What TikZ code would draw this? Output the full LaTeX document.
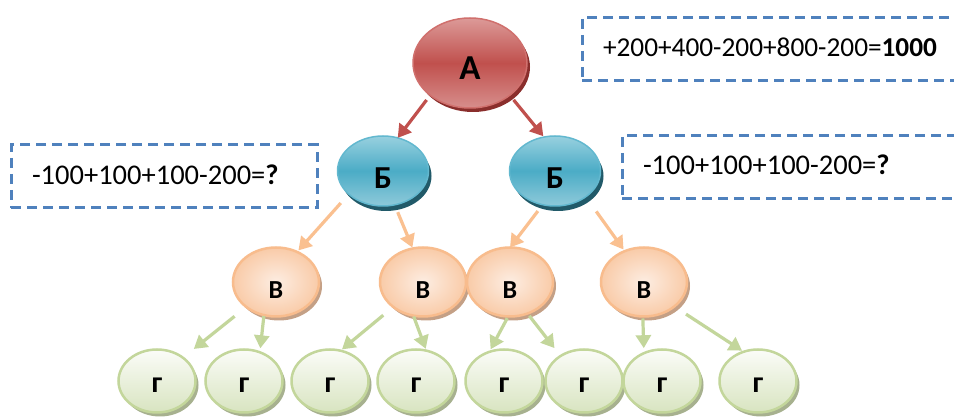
\documentclass[tikz,border=0pt]{standalone}
\usepackage{fontspec}
\setmainfont{Carlito}
\usetikzlibrary{shapes.geometric,arrows.meta,shadows}
\definecolor{Atop}{HTML}{DC9A98}
\definecolor{Amid}{HTML}{C0504D}
\definecolor{Abot}{HTML}{D78E8C}
\definecolor{Arim}{HTML}{D0706D}
\definecolor{Ashd}{HTML}{8A2E2C}
\definecolor{Btop}{HTML}{98D0DF}
\definecolor{Bmid}{HTML}{4BACC6}
\definecolor{Bbot}{HTML}{8FCADA}
\definecolor{Brim}{HTML}{62B8CF}
\definecolor{Bshd}{HTML}{215A69}
\definecolor{Vin}{HTML}{FDEDE2}
\definecolor{Vout}{HTML}{F9CBA8}
\definecolor{Vrim}{HTML}{F8BC8D}
\definecolor{Vshd}{HTML}{C4A086}
\definecolor{Gtop}{HTML}{FBFCF8}
\definecolor{Gbot}{HTML}{D8E4C0}
\definecolor{Grim}{HTML}{C3D69B}
\definecolor{Gshd}{HTML}{A7B18F}
\definecolor{Vline}{HTML}{FAC090}
\definecolor{Gline}{HTML}{C3D69B}
\definecolor{Dash}{HTML}{4F81BD}
\begin{document}
\begin{tikzpicture}[x=1pt,y=-1pt,
  every node/.style={inner sep=0pt,outer sep=0pt},
  ell/.style={ellipse,inner sep=0pt,outer sep=0pt},
  nA/.style={ell,minimum width=114,minimum height=90,draw=Arim,line width=1.5pt,
    top color=Atop,bottom color=Abot,middle color=Amid,
    general shadow={fill=Ashd,shadow xshift=3pt,shadow yshift=-4pt}},
  nB/.style={ell,minimum width=91,minimum height=70,draw=Brim,line width=1.5pt,
    top color=Btop,bottom color=Bbot,middle color=Bmid,
    general shadow={fill=Bshd,shadow xshift=3pt,shadow yshift=-5pt}},
  nV/.style={ell,minimum width=86,minimum height=69,draw=Vrim,line width=2.5pt,
    inner color=Vin,outer color=Vout,
    general shadow={fill=Vshd,shadow xshift=3pt,shadow yshift=-4pt}},
  nG/.style={ell,minimum width=77,minimum height=63,draw=Grim,line width=2.5pt,
    top color=Gtop,bottom color=Gbot,
    general shadow={fill=Gshd,shadow xshift=3pt,shadow yshift=-4pt}},
  lA/.style={font=\bfseries\fontsize{35}{37}\selectfont},
  lB/.style={font=\bfseries\fontsize{32}{34}\selectfont},
  lV/.style={font=\bfseries\fontsize{26}{28}\selectfont},
  lG/.style={font=\bfseries\fontsize{30}{32}\selectfont},
  con/.style={line width=3.2pt,-{Triangle[length=13pt,width=15pt]}},
  conA/.style={con,draw=Amid},
  conB/.style={con,draw=Vline},
  conV/.style={con,draw=Gline},
  dbox/.style={draw=Dash,line width=3pt,dash pattern=on 10pt off 6pt,anchor=north west,minimum height=63},
  txt/.style={anchor=base west,font=\fontsize{27.3}{30}\selectfont},
  txtb/.style={anchor=base west,font=\fontsize{28.5}{31}\selectfont}
]
\useasboundingbox (0,0) rectangle (954,419);
\clip (0,0) rectangle (954,419);
\fill[white] (0,0) rectangle (954,419);

% dashed boxes
\node[dbox,minimum width=400] (box1) at (582,18) {};
\node[dbox,minimum width=360] (box2) at (622,136) {};
\node[dbox,minimum width=306] (box3) at (11,145) {};
\node[txt] (t1) at (603,57) {+200+400-200+800-200=\textbf{1000}};
\node[txtb] (t2) at (643,175) {-100+100+100-200=\textbf{?}};
\node[txtb] (t3) at (32,185) {-100+100+100-200=\textbf{?}};

% nodes
\node[nA] (A) at (470,63) {};
\node[nB] (B1) at (383,171) {};
\node[nB] (B2) at (555,171) {};
\node[nV] (V1) at (276,282) {};
\node[nV] (V2) at (423,282) {};
\node[nV] (V3) at (510,282) {};
\node[nV] (V4) at (644,282) {};
\node[nG] (G1) at (157,381) {};
\node[nG] (G2) at (244,381) {};
\node[nG] (G3) at (330,381) {};
\node[nG] (G4) at (416,381) {};
\node[nG] (G5) at (504,381) {};
\node[nG] (G6) at (584,381) {};
\node[nG] (G7) at (662,381) {};
\node[nG] (G8) at (758,381) {};

% labels
\node[lA] (tA) at ([yshift=-5pt]A.center) {А};
\node[lB] (tB1) at ([yshift=-7pt]B1.center) {Б};
\node[lB] (tB2) at ([yshift=-7pt]B2.center) {Б};
\node[lV] (tV1) at ([yshift=-8pt]V1.center) {В};
\node[lV] (tV2) at ([yshift=-8pt]V2.center) {В};
\node[lV] (tV3) at ([yshift=-8pt]V3.center) {В};
\node[lV] (tV4) at ([yshift=-8pt]V4.center) {В};
\foreach \i in {1,...,8}{
  \node[lG] (tG\i) at ([yshift=-4pt]G\i.center) {г};
}

% connectors
\draw[conA,shorten <=6pt] (A.219) -- (B1.66);
\draw[conA,shorten <=6pt,shorten >=1pt] (A.321) -- (B2.108);
\draw[conB,shorten <=12pt,shorten >=2pt] (B1.214) -- (V1.55);
\draw[conB,shorten <=8pt,shorten >=1pt] (B1.289) -- (V2.107);
\draw[conB,shorten <=8pt] (B2.250) -- (V3.90);
\draw[conB,shorten <=18pt,shorten >=2pt] (B2.320) -- (V4.122);
\draw[conV,shorten <=15pt,shorten >=14pt] (V1.220) -- (G1.42);
\draw[conV,shorten <=1pt,shorten >=4pt] (V1.250) -- (G2.61);
\draw[conV,shorten <=13pt,shorten >=2pt] (V2.220) -- (G3.71);
\draw[conV,shorten <=1pt,shorten >=2pt] (V2.254) -- (G4.71);
\draw[conV,shorten <=2pt,shorten >=3pt] (V3.267) -- (G5.117);
\draw[conV,shorten <=3pt,shorten >=10pt] (V3.299) -- (G6.133);
\draw[conV,shorten <=2pt,shorten >=5pt] (V4.268) -- (G7.123);
\draw[conV,shorten <=14pt,shorten >=2pt] (V4.321) -- (G8.116);
\end{tikzpicture}
\end{document}
